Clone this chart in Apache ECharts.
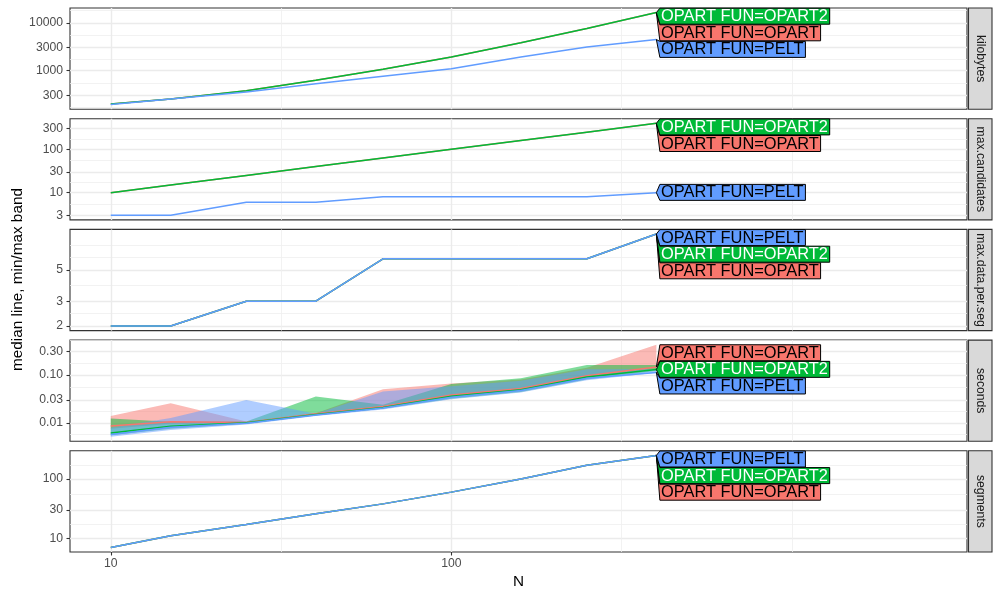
<!DOCTYPE html>
<html><head><meta charset="utf-8">
<script src="https://cdn.jsdelivr.net/npm/echarts@6/dist/echarts.min.js"></script>
<style>html,body{margin:0;padding:0;background:#fff}#c{width:1000px;height:600px}</style>
</head><body><div id="c"></div><script>
// ---------------- data ----------------
const N = [10, 15, 25, 40, 63, 100, 160, 250, 400];
const groupNames = ['OPART FUN=OPART', 'OPART FUN=OPART2', 'OPART FUN=PELT'];
const stripNames = ['kilobytes', 'max.candidates', 'max.data.per.seg', 'seconds', 'segments'];

const kbOPART  = [195, 250, 370, 620, 1050, 1900, 3800, 7600, 16400];
const kbOPART2 = [195, 250, 370, 620, 1050, 1900, 3800, 7600, 16400];
const kbPELT   = [190, 250, 350, 520, 750, 1080, 1900, 3100, 4450];

const candOPART  = [10, 15, 25, 40, 63, 100, 160, 250, 400];
const candOPART2 = [10, 15, 25, 40, 63, 100, 160, 250, 400];
const candPELT   = [3, 3, 6, 6, 8, 8, 8, 8, 10];

const dpsOPART  = [2, 2, 3, 3, 6, 6, 6, 6, 9];
const dpsOPART2 = [2, 2, 3, 3, 6, 6, 6, 6, 9];
const dpsPELT   = [2, 2, 3, 3, 6, 6, 6, 6, 9];

const secMinOPART  = [0.0076, 0.0096, 0.0098, 0.0148, 0.0205, 0.034, 0.047, 0.085, 0.13];
const secMedOPART  = [0.0087, 0.0106, 0.0103, 0.0155, 0.022, 0.038, 0.052, 0.095, 0.145];
const secMaxOPART  = [0.0139, 0.0258, 0.0107, 0.016, 0.05, 0.066, 0.08, 0.14, 0.42];
const secMinOPART2 = [0.0056, 0.0076, 0.0096, 0.0143, 0.0198, 0.032, 0.044, 0.08, 0.12];
const secMedOPART2 = [0.0062, 0.0086, 0.0101, 0.015, 0.021, 0.036, 0.049, 0.09, 0.128];
const secMaxOPART2 = [0.0124, 0.0106, 0.0107, 0.0353, 0.024, 0.064, 0.085, 0.16, 0.16];
const secMinPELT   = [0.0052, 0.0072, 0.0093, 0.014, 0.019, 0.031, 0.043, 0.077, 0.11];
const secMedPELT   = [0.0058, 0.0082, 0.0099, 0.0146, 0.0205, 0.034, 0.047, 0.085, 0.112];
const secMaxPELT   = [0.008, 0.0127, 0.030, 0.0155, 0.045, 0.058, 0.075, 0.13, 0.13];

const segOPART  = [7, 11, 17, 26, 38, 60, 100, 170, 250];
const segOPART2 = [7, 11, 17, 26, 38, 60, 100, 170, 250];
const segPELT   = [7, 11, 17, 26, 38, 60, 100, 170, 250];

const xTicks = [10, 100];
const xTickLabels = ['10', '100'];
const xLimits = [10, 2480];
const kbTicks = [300, 1000, 3000, 10000];
const kbTickLabels = ['300', '1000', '3000', '10000'];
const candTicks = [3, 10, 30, 100, 300];
const candTickLabels = ['3', '10', '30', '100', '300'];
const dpsTicks = [2, 3, 5];
const dpsTickLabels = ['2', '3', '5'];
const secTicks = [0.01, 0.03, 0.1, 0.3];
const secTickLabels = ['0.01', '0.03', '0.10', '0.30'];
const segTicks = [10, 30, 100];
const segTickLabels = ['10', '30', '100'];

// ---------------- layout / style ----------------
const L = Math.log10;
const colors = ['#F8766D', '#00BA38', '#619CFF'];
const bandColors = ['rgba(248,118,109,0.5)', 'rgba(0,186,56,0.5)', 'rgba(97,156,255,0.5)'];
const labelTextColors = ['#000000', '#FFFFFF', '#000000'];
const FONT = '"Liberation Sans", Arial, Helvetica, sans-serif';
const panelTop0 = 8, panelStep = 110.7, panelH = 101.2, gridLeft = 70, gridRightPx = 967;
const LABEL_FONT_SIZE = 16.4, SLOT = 16.6, BOXH = 16.0;

const panels = [
  { strip: stripNames[0], med: [kbOPART, kbOPART2, kbPELT], ticks: kbTicks, tickLabels: kbTickLabels },
  { strip: stripNames[1], med: [candOPART, candOPART2, candPELT], ticks: candTicks, tickLabels: candTickLabels },
  { strip: stripNames[2], med: [dpsOPART, dpsOPART2, dpsPELT], ticks: dpsTicks, tickLabels: dpsTickLabels },
  { strip: stripNames[3], med: [secMedOPART, secMedOPART2, secMedPELT],
    lo: [secMinOPART, secMinOPART2, secMinPELT], hi: [secMaxOPART, secMaxOPART2, secMaxPELT],
    ticks: secTicks, tickLabels: secTickLabels },
  { strip: stripNames[4], med: [segOPART, segOPART2, segPELT], ticks: segTicks, tickLabels: segTickLabels },
];

function expandRange(vals) {
  const lv = vals.map(L);
  const lo = Math.min(...lv), hi = Math.max(...lv);
  const d = (hi - lo) * 0.05;
  return [lo - d, hi + d];
}
function minorBreaks(majors, lo, hi) {
  const bd = majors[1] - majors[0];
  const b = [majors[0] - bd, ...majors, majors[majors.length - 1] + bd];
  const out = [];
  for (let i = 0; i < b.length - 1; i++) out.push(b[i], (b[i] + b[i + 1]) / 2);
  out.push(b[b.length - 1]);
  return out.filter(v => v >= lo && v <= hi && !majors.some(m => Math.abs(m - v) < 1e-9));
}
const measureCtx = document.createElement('canvas').getContext('2d');
function textWidth(t) { measureCtx.font = LABEL_FONT_SIZE + 'px ' + FONT; return measureCtx.measureText(t).width; }

function layoutBoxes(ys, top, bottom) {
  const items = ys.map((y, k) => ({ k, y }))
    .sort((a, b) => (Math.abs(a.y - b.y) < 0.5 ? b.k - a.k : a.y - b.y));
  let clusters = items.map(it => [it]);
  function pos(cl) {
    const n = cl.length;
    const mean = cl.reduce((s, it) => s + it.y, 0) / n;
    let t = mean - n * SLOT / 2;
    const minT = top + 0.2, maxT = bottom - 0.2 - n * SLOT;
    if (t < minT) t = minT;
    if (t > maxT) t = maxT;
    return t;
  }
  let changed = true;
  while (changed) {
    changed = false;
    for (let i = 0; i < clusters.length - 1; i++) {
      const a = clusters[i], b = clusters[i + 1];
      if (pos(a) + a.length * SLOT > pos(b) + 1e-6) {
        clusters.splice(i, 2, a.concat(b));
        changed = true;
        break;
      }
    }
  }
  const res = {};
  clusters.forEach(cl => {
    const t = pos(cl);
    cl.forEach((it, j) => { res[it.k] = t + j * SLOT; });
  });
  return res;
}

const xRange = (function () {
  const lo = L(xLimits[0]), hi = L(xLimits[1]);
  const d = (hi - lo) * 0.05;
  return [lo - d, hi + d];
})();
const xMajor = xTicks.map(L);
const xMinor = minorBreaks(xMajor, xRange[0], xRange[1]);

const grids = [], xAxes = [], yAxes = [], series = [], graphics = [];
const last = N.length - 1;

panels.forEach((p, i) => {
  const top = panelTop0 + i * panelStep;
  grids.push({ left: gridLeft, width: gridRightPx - gridLeft, top: top, height: panelH,
    show: true, borderColor: '#333333', borderWidth: 1.1, backgroundColor: 'transparent' });
  const isBottom = i === panels.length - 1;
  // major x axis
  xAxes.push({ type: 'value', gridIndex: i, min: xRange[0], max: xRange[1],
    axisLine: { show: false },
    axisTick: { show: isBottom, customValues: xMajor, length: 3.5, lineStyle: { color: '#333333', width: 1.1 } },
    axisLabel: { show: isBottom, customValues: xMajor, margin: 6, color: '#4D4D4D', fontSize: 12.2, fontFamily: FONT,
      formatter: v => { const j = xMajor.findIndex(m => Math.abs(m - v) < 1e-6); return j >= 0 ? xTickLabels[j] : ''; } },
    splitLine: { show: true, lineStyle: { color: '#EBEBEB', width: 1.4 } } });
  // minor x axis
  xAxes.push({ type: 'value', gridIndex: i, min: xRange[0], max: xRange[1],
    axisLine: { show: false }, axisLabel: { show: false },
    axisTick: { show: false, customValues: xMinor },
    splitLine: { show: true, lineStyle: { color: '#EFEFEF', width: 0.8 } } });

  let allVals = [];
  p.med.forEach(a => allVals = allVals.concat(a));
  if (p.lo) { p.lo.forEach(a => allVals = allVals.concat(a)); p.hi.forEach(a => allVals = allVals.concat(a)); }
  const yr = expandRange(allVals);
  const yMajor = p.ticks.map(L);
  const yMinor = minorBreaks(yMajor, yr[0], yr[1]);
  yAxes.push({ type: 'value', gridIndex: i, min: yr[0], max: yr[1],
    axisLine: { show: false },
    axisTick: { show: true, customValues: yMajor, length: 3.5, lineStyle: { color: '#333333', width: 1.1 } },
    axisLabel: { show: true, customValues: yMajor, margin: 7, color: '#4D4D4D', fontSize: 12.2, fontFamily: FONT,
      formatter: v => { const j = yMajor.findIndex(m => Math.abs(m - v) < 1e-6); return j >= 0 ? p.tickLabels[j] : ''; } },
    splitLine: { show: true, lineStyle: { color: '#EBEBEB', width: 1.4 } } });
  yAxes.push({ type: 'value', gridIndex: i, min: yr[0], max: yr[1], position: 'left',
    axisLine: { show: false }, axisLabel: { show: false },
    axisTick: { show: false, customValues: yMinor },
    splitLine: { show: true, lineStyle: { color: '#EFEFEF', width: 0.8 } } });

  const xi = 2 * i, yi = 2 * i;
  // bands
  if (p.lo) {
    [0, 1, 2].forEach(g => {
      const lo = p.lo[g], hi = p.hi[g];
      series.push({ type: 'custom', xAxisIndex: xi, yAxisIndex: yi, z: 2, silent: true, clip: true,
        data: N.map((n, k) => [L(n), L(hi[k])]),
        renderItem: function (params, api) {
          if (params.dataIndex !== 0) return null;
          const pts = [];
          for (let k = 0; k < N.length; k++) pts.push(api.coord([L(N[k]), L(hi[k])]));
          for (let k = N.length - 1; k >= 0; k--) pts.push(api.coord([L(N[k]), L(lo[k])]));
          return { type: 'polygon', shape: { points: pts }, style: { fill: bandColors[g], stroke: null } };
        } });
    });
  }
  // median lines
  [0, 1, 2].forEach(g => {
    series.push({ type: 'line', name: groupNames[g], xAxisIndex: xi, yAxisIndex: yi, z: 3,
      data: N.map((n, k) => [L(n), L(p.med[g][k])]),
      showSymbol: false, symbol: 'none', silent: true,
      lineStyle: { color: colors[g], width: 1.5 } });
  });
  // direct labels
  series.push({ type: 'custom', xAxisIndex: xi, yAxisIndex: yi, z: 5, silent: true, clip: false,
    data: [0, 1, 2].map(g => [L(N[last]), L(p.med[g][last])]),
    renderItem: function (params, api) {
      const g = params.dataIndex;
      const cs = params.coordSys;
      const tips = [0, 1, 2].map(h => api.coord([L(N[last]), L(p.med[h][last])]));
      const tops = layoutBoxes(tips.map(t => t[1]), cs.y, cs.y + cs.height);
      const tip = tips[g];
      const bt = tops[g], bb = bt + BOXH;
      const left = tip[0] + 3.5;
      const tw = textWidth(groupNames[g]);
      const right = left + tw + 3;
      return { type: 'group', children: [
        { type: 'polygon', shape: { points: [[tip[0], tip[1]], [left, bt], [right, bt], [right, bb], [left, bb]] },
          style: { fill: colors[g], stroke: '#000000', lineWidth: 1 } },
        { type: 'text', x: left + 1.2, y: (bt + bb) / 2 + 0.5,
          style: { text: groupNames[g], fill: labelTextColors[g], font: LABEL_FONT_SIZE + 'px ' + FONT,
            textAlign: 'left', verticalAlign: 'middle', textVerticalAlign: 'middle' } }
      ] };
    } });

  // strip
  graphics.push({ type: 'rect', shape: { x: 968.5, y: top, width: 23.5, height: panelH },
    style: { fill: '#D9D9D9', stroke: '#333333', lineWidth: 1.1 }, z: 10 });
  graphics.push({ type: 'text', x: 980.5, y: top + panelH / 2, rotation: -Math.PI / 2,
    style: { text: p.strip, fill: '#1A1A1A', font: '12.2px ' + FONT, textAlign: 'center', verticalAlign: 'middle' }, z: 11 });
});

graphics.push({ type: 'text', x: 518.5, y: 582, style: { text: 'N', fill: '#000000', font: '15.3px ' + FONT,
  textAlign: 'center', verticalAlign: 'middle' } });
graphics.push({ type: 'text', x: 18, y: 279.5, rotation: Math.PI / 2,
  style: { text: 'median line, min/max band', fill: '#000000', font: '15.3px ' + FONT,
    textAlign: 'center', verticalAlign: 'middle' } });

const chart = echarts.init(document.getElementById('c'), null, { renderer: 'canvas' });
chart.setOption({
  animation: false,
  backgroundColor: '#ffffff',
  grid: grids, xAxis: xAxes, yAxis: yAxes, series: series, graphic: graphics
});
</script></body></html>
